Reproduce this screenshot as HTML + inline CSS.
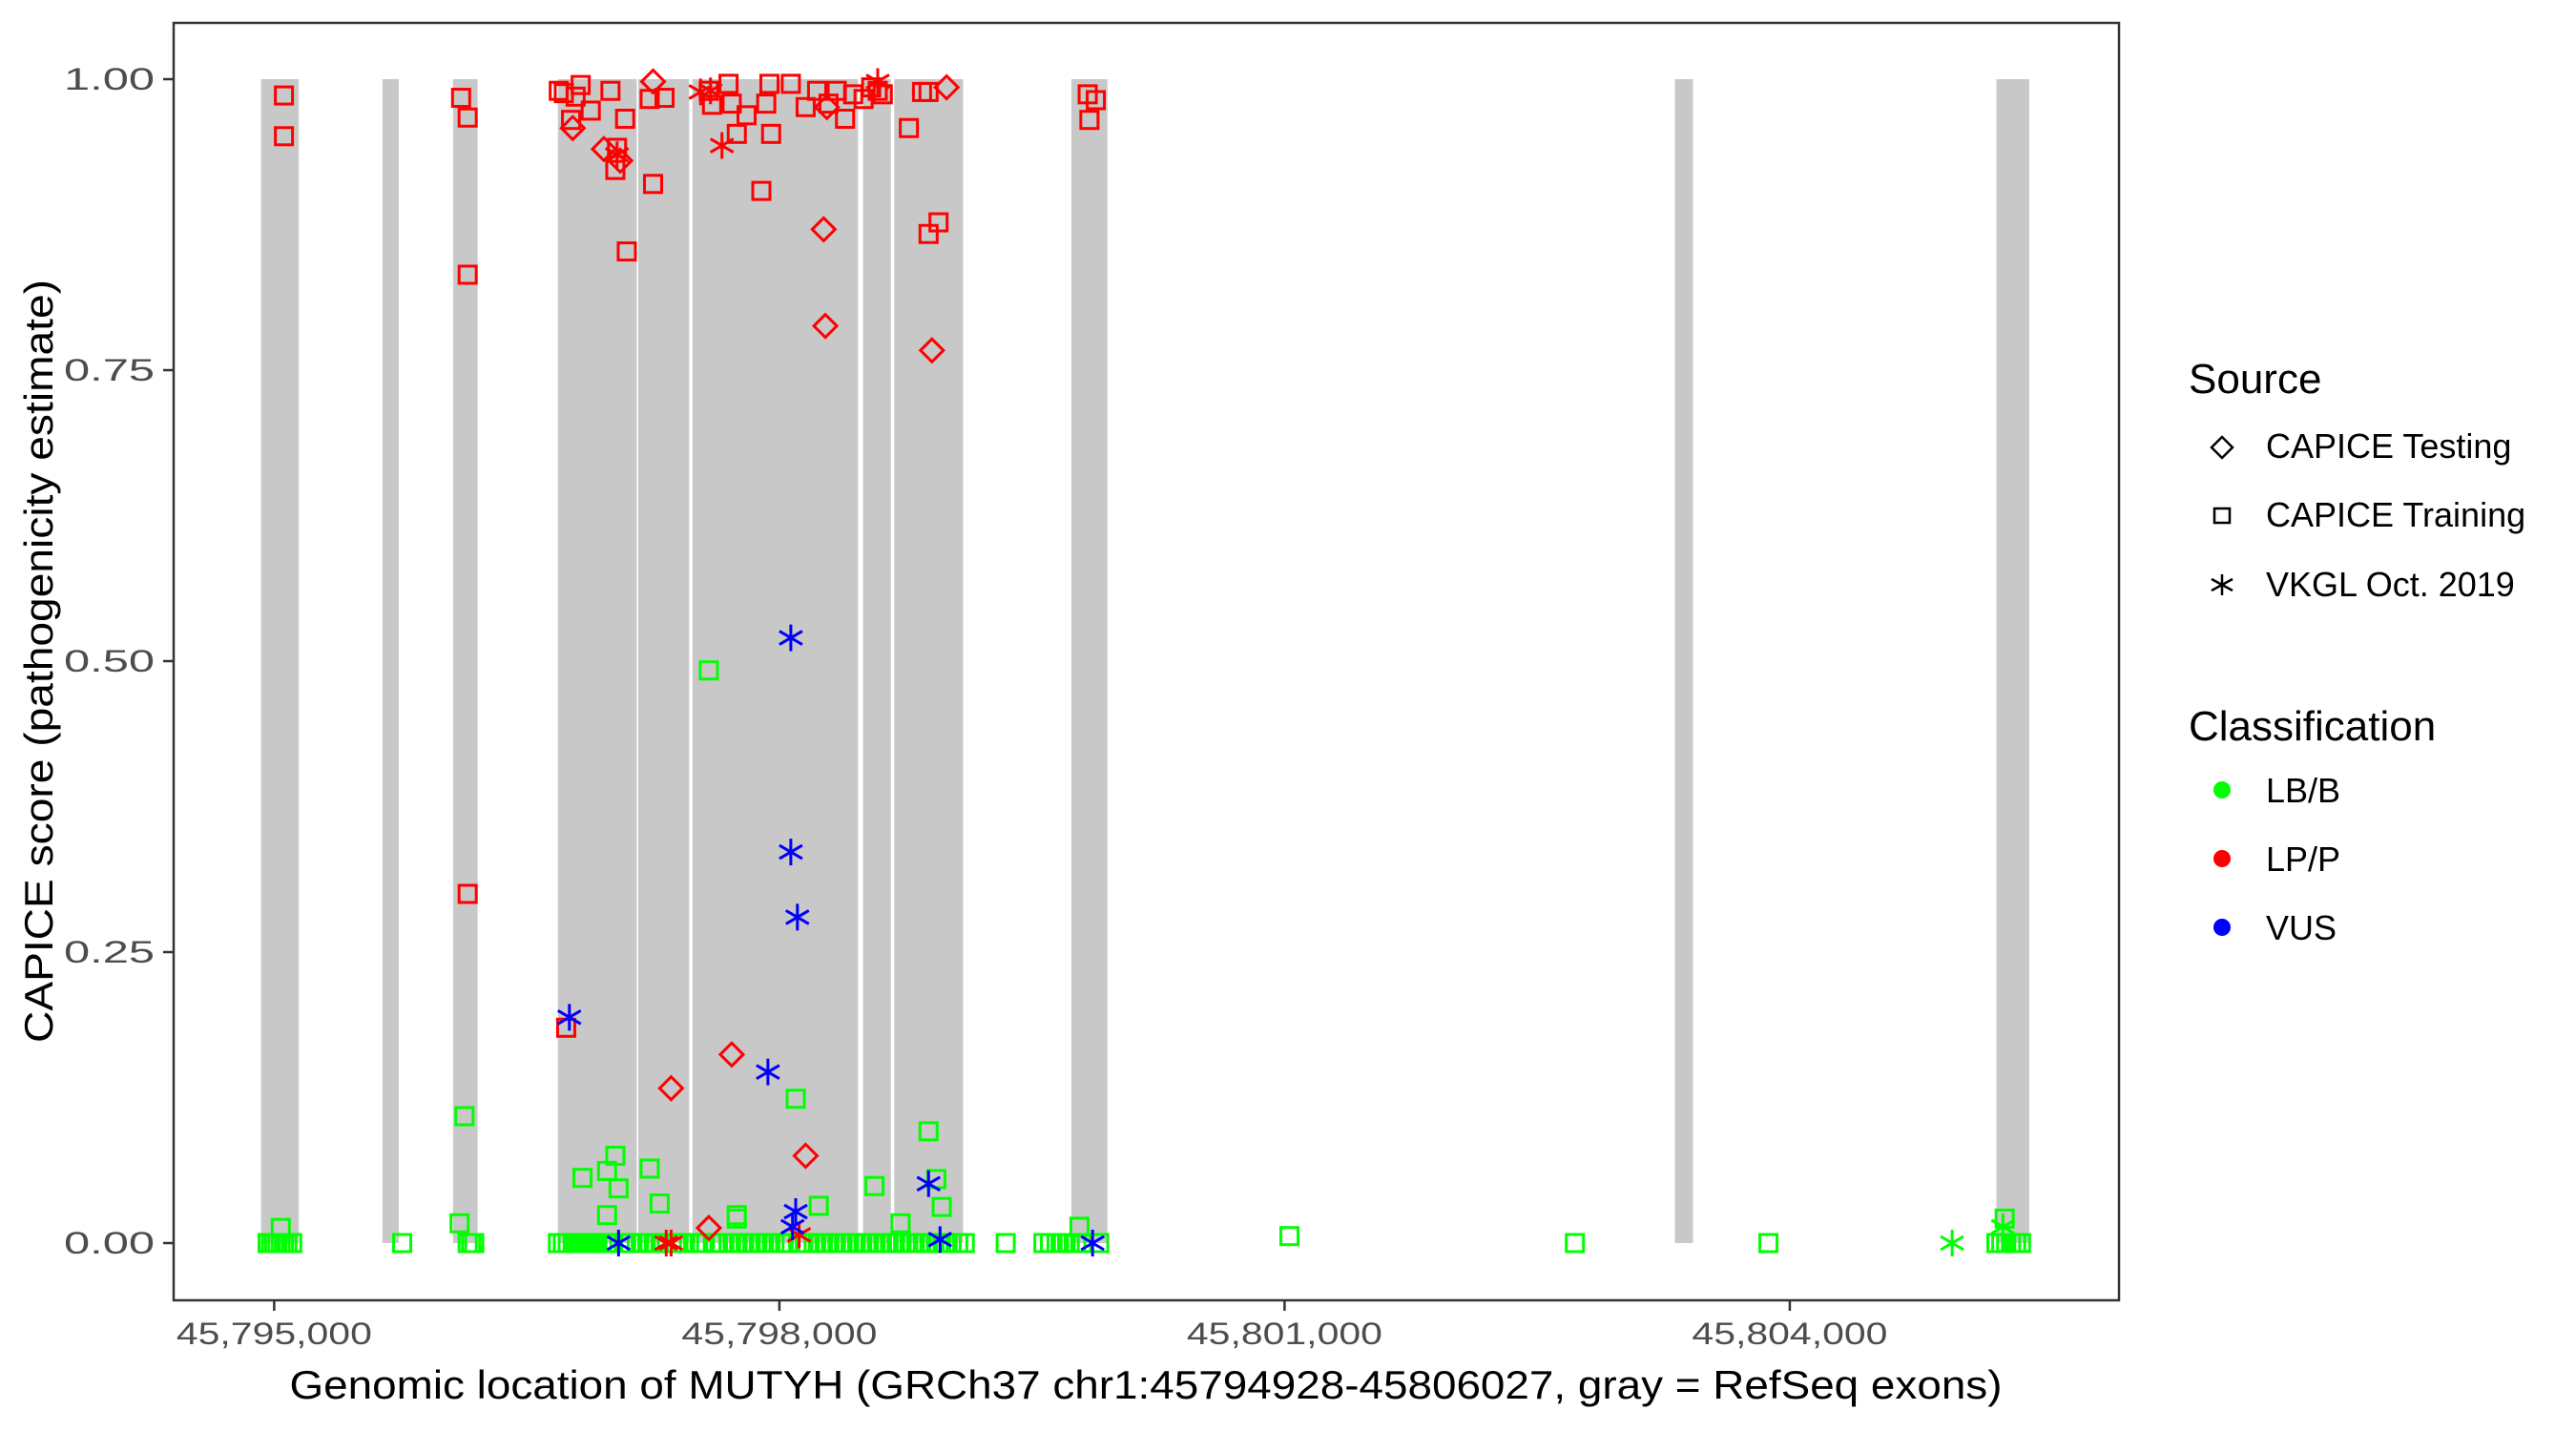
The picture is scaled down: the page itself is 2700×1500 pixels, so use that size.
<!DOCTYPE html>
<html><head><meta charset="utf-8"><title>CAPICE MUTYH</title>
<style>html,body{margin:0;padding:0;background:#fff}svg{display:block}text{font-family:"Liberation Sans",Arial,sans-serif}</style></head>
<body>
<svg id="chart" width="2700" height="1500" viewBox="0 0 2700 1500" xmlns="http://www.w3.org/2000/svg">
<rect x="0" y="0" width="2700" height="1500" fill="#fff"/>
<g id="exons"></g>
<g id="points"></g>
<rect x="182" y="24" width="2039" height="1339" fill="none" stroke="#333" stroke-width="2.5"/>
<g id="axes"></g>
<text x="1201" y="1466" text-anchor="middle" font-size="42" textLength="1795" lengthAdjust="spacingAndGlyphs">Genomic location of MUTYH (GRCh37 chr1:45794928-45806027, gray = RefSeq exons)</text>
<text transform="translate(55,693) rotate(-90)" text-anchor="middle" font-size="42" textLength="800" lengthAdjust="spacingAndGlyphs">CAPICE score (pathogenicity estimate)</text>
<g>
<text x="2294" y="412" font-size="44">Source</text>
<path d="M2329,458 L2340,469 L2329,480 L2318,469 Z" fill="none" stroke="#000" stroke-width="2.5"/>
<text x="2375" y="480" font-size="36">CAPICE Testing</text>
<rect x="2321" y="533" width="16" height="15" fill="none" stroke="#000" stroke-width="2.5"/>
<text x="2375" y="552" font-size="36">CAPICE Training</text>
<g stroke="#000" stroke-width="2.5"><line x1="2329" y1="602" x2="2329" y2="624"/><line x1="2318" y1="607" x2="2340" y2="619"/><line x1="2318" y1="619" x2="2340" y2="607"/></g>
<text x="2375" y="625" font-size="36">VKGL Oct. 2019</text>
<text x="2294" y="776" font-size="44">Classification</text>
<circle cx="2329" cy="828" r="9" fill="#00FF00"/>
<text x="2375" y="841" font-size="36">LB/B</text>
<circle cx="2329" cy="900" r="9" fill="#FF0000"/>
<text x="2375" y="913" font-size="36">LP/P</text>
<circle cx="2329" cy="972" r="9" fill="#0000FF"/>
<text x="2375" y="985" font-size="36">VUS</text>
</g>
</svg>
<script>
const xTicks = [45795000, 45798000, 45801000, 45804000];
const xTickLabels = ["45,795,000", "45,798,000", "45,801,000", "45,804,000"];
const yTicks = [0, 0.25, 0.5, 0.75, 1];
const yTickLabels = ["0.00", "0.25", "0.50", "0.75", "1.00"];
const exonStarts = [45794922, 45795643, 45796062, 45796685, 45797162, 45797484, 45798497, 45798682, 45799734, 45803318, 45805227];
const exonEnds = [45795146, 45795740, 45796208, 45797153, 45797464, 45798467, 45798662, 45799091, 45799948, 45803425, 45805422];

// red training squares (LP/P)
const lpTrainPos = [45795058,45795058,45796110,45796149,45796149,45796149,45796734,45796763,45796880,45796997,45797026,45797036,45797084,45797094,45797250,45797318,45797230,45797581,45797698,45797717,45797747,45797805,45797893,45797922,45797941,45797951,45798068,45798156,45798224,45798292,45798341,45798390,45798438,45798545,45798584,45798614,45798769,45798847,45798886,45798886,45798945,45799831,45799841,45799879,45796690,45796720,45796790,45796820,45797600,45798500];
const lpTrainScore = [0.986,0.951,0.984,0.967,0.832,0.30,0.185,0.965,0.973,0.99,0.922,0.941,0.966,0.852,0.91,0.984,0.983,0.99,0.996,0.979,0.953,0.969,0.904,0.979,0.996,0.953,0.996,0.976,0.99,0.979,0.99,0.966,0.987,0.993,0.99,0.987,0.958,0.989,0.989,0.867,0.877,0.987,0.965,0.982,0.99,0.988,0.985,0.995,0.978,0.983];
// red testing diamonds
const lpTestPos = [45796773,45796958,45797055,45797250,45798263,45798273,45798906,45798993,45797717,45797357,45798156,45797581,45798282];
const lpTestScore = [0.958,0.94,0.93,0.998,0.871,0.788,0.767,0.993,0.162,0.133,0.075,0.013,0.976];
// red VKGL asterisks
const lpVkglPos = [45797036,45797532,45797591,45797659,45798584,45797357,45797328,45798117];
const lpVkglScore = [0.935,0.989,0.99,0.943,0.998,0,0,0.007];
// blue VKGL asterisks
const vusVkglPos = [45798068,45798068,45798107,45796753,45797932,45798886,45798097,45798078,45797045,45798954,45799860];
const vusVkglScore = [0.52,0.336,0.28,0.194,0.147,0.051,0.027,0.014,0,0.003,0];
// green training squares
const lbTrainPos = [45797581,45796130,45798097,45798886,45797026,45796831,45797230,45796977,45797045,45798932,45798565,45797289,45796977,45796101,45797747,45797747,45798234,45798964,45798720,45799782,45805276,45801029,45795039,
45794961,45794981,45795000,45795019,45795039,45795058,45795078,45795107,45795760,45796149,45796169,45796188,45796685,45796714,45796743,45796773,45796802,45796831,45796860,45796890,45796919,45796948,45796977,45797006,45797075,45797114,45797153,45797192,45797230,45797269,45797308,45797386,45797425,45797464,45797503,45797542,45797620,45797659,45797698,45797737,45797776,45797815,45797854,45797893,45797932,45797971,45798010,45798049,45798127,45798166,45798204,45798243,45798282,45798321,45798360,45798399,45798438,45798477,45798516,45798555,45798594,45798633,45798672,45798711,45798750,45798789,45798828,45798867,45798906,45798945,45798984,45799023,45799062,45799101,45799344,45799568,45799607,45799646,45799685,45799724,45799763,45799802,45799899,45802724,45803873,45805227,45805256,45805285,45805314,45805344,45805373];
const lbTrainScore = [0.492,0.109,0.124,0.096,0.075,0.056,0.064,0.062,0.047,0.055,0.049,0.034,0.024,0.017,0.024,0.021,0.032,0.031,0.017,0.014,0.021,0.006,0.013,
0,0,0,0,0,0,0,0,0,0,0,0,0,0,0,0,0,0,0,0,0,0,0,0,0,0,0,0,0,0,0,0,0,0,0,0,0,0,0,0,0,0,0,0,0,0,0,0,0,0,0,0,0,0,0,0,0,0,0,0,0,0,0,0,0,0,0,0,0,0,0,0,0,0,0,0,0,0,0,0,0,0,0,0,0,0,0,0,0,0,0,0,0,0,0];
// green VKGL asterisks
const lbVkglPos = [45804964, 45805266];
const lbVkglScore = [0, 0.014];

const X0 = 45794403, X1 = 45805955, PL = 182, PR = 2221;
function xs(v){ return PL + (v - X0) * (PR - PL) / (X1 - X0); }
function ys(v){ return 1303 - 1220 * v; }
const NS = "http://www.w3.org/2000/svg";
function mk(tag, attrs, parent){ const e = document.createElementNS(NS, tag); for (const k in attrs) e.setAttribute(k, attrs[k]); parent.appendChild(e); return e; }

const gEx = document.getElementById('exons');
for (let i = 0; i < exonStarts.length; i++) {
  const r = mk('rect', {x: xs(exonStarts[i]), y: ys(1), width: xs(exonEnds[i]) - xs(exonStarts[i]), height: ys(0) - ys(1), fill: '#C8C8C8'}, gEx);
  
  
}

const gAx = document.getElementById('axes');
for (let i = 0; i < xTicks.length; i++) {
  const x = xs(xTicks[i]);
  const t = mk('line', {x1: x, x2: x, y1: 1363, y2: 1374, stroke: '#333', 'stroke-width': 2.5}, gAx);
  
  
  const l = mk('text', {x: x, y: 1409, 'text-anchor': 'middle', 'font-size': 32, fill: '#4D4D4D', textLength: 205, lengthAdjust: 'spacingAndGlyphs'}, gAx);
  l.textContent = xTickLabels[i];
  
  
}
for (let i = 0; i < yTicks.length; i++) {
  const y = ys(yTicks[i]);
  const t = mk('line', {x1: 171, x2: 182, y1: y, y2: y, stroke: '#333', 'stroke-width': 2.5}, gAx);
  
  
  const l = mk('text', {x: 162, y: y + 11, 'text-anchor': 'end', 'font-size': 32, fill: '#4D4D4D', textLength: 95, lengthAdjust: 'spacingAndGlyphs'}, gAx);
  l.textContent = yTickLabels[i];
  
  
}

const gP = document.getElementById('points');
function square(cx, cy, c){ return mk('rect', {x: cx - 9, y: cy - 9, width: 18, height: 18, fill: 'none', stroke: c, 'stroke-width': 3}, gP); }
function diamond(cx, cy, c){ return mk('path', {d: `M${cx},${cy-12} L${cx+12},${cy} L${cx},${cy+12} L${cx-12},${cy} Z`, fill: 'none', stroke: c, 'stroke-width': 3}, gP); }
function star(cx, cy, c){ return mk('path', {d: `M${cx},${cy-14} L${cx},${cy+14} M${cx-12},${cy-7} L${cx+12},${cy+7} M${cx-12},${cy+7} L${cx+12},${cy-7}`, fill: 'none', stroke: c, 'stroke-width': 3}, gP); }

for (let i = 0; i < lbTrainPos.length; i++) {
  const e = square(xs(lbTrainPos[i]), ys(lbTrainScore[i]), '#00FF00');
  
  
}
for (let i = 0; i < lbVkglPos.length; i++) {
  const e = star(xs(lbVkglPos[i]), ys(lbVkglScore[i]), '#00FF00');
  
  
}
for (let i = 0; i < lpTrainPos.length; i++) {
  const e = square(xs(lpTrainPos[i]), ys(lpTrainScore[i]), '#FF0000');
  
  
}
for (let i = 0; i < lpTestPos.length; i++) {
  const e = diamond(xs(lpTestPos[i]), ys(lpTestScore[i]), '#FF0000');
  
  
}
for (let i = 0; i < lpVkglPos.length; i++) {
  const e = star(xs(lpVkglPos[i]), ys(lpVkglScore[i]), '#FF0000');
  
  
}
for (let i = 0; i < vusVkglPos.length; i++) {
  const e = star(xs(vusVkglPos[i]), ys(vusVkglScore[i]), '#0000FF');
  
  
}
</script>
</body></html>
